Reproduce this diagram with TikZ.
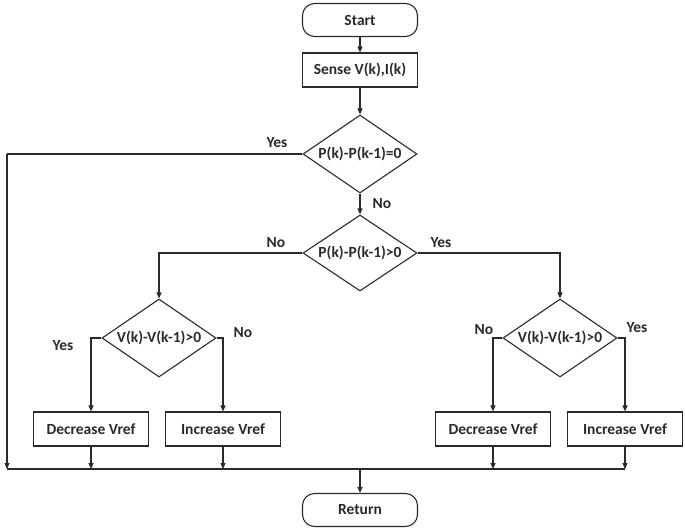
\documentclass[tikz,border=0pt]{standalone}
\usepackage{fontspec}
\setmainfont{Carlito}
\usetikzlibrary{shapes.geometric,arrows.meta}
\definecolor{ink}{HTML}{2A2A2A}
\begin{document}
\begin{tikzpicture}[x=1pt,y=-1pt,
  every node/.style={font=\bfseries\fontsize{15.5}{18}\selectfont,text=ink},
  line/.style={draw=ink,line width=1.1pt},
  arr/.style={line,-{Triangle[length=6pt,width=5pt]}},
  term/.style={line,rounded corners=12pt,minimum width=115pt,minimum height=33pt,inner sep=0pt},
  proc/.style={line,minimum width=115pt,minimum height=34pt,inner sep=0pt},
  dec/.style={line,shape=diamond,minimum width=114pt,minimum height=78pt,inner sep=0pt},
  lab/.style={font=\bfseries\fontsize{15.5}{18}\selectfont}
]
\useasboundingbox (0,0) rectangle (685,530);
\node[term] (start) at (360,20) {Start};
\node[proc] (sense) at (360,70) {Sense V(k),I(k)};
\node[dec,label={center:P(k)-P(k-1)=0}] (d1) at (360,154) {};
\node[dec,minimum height=76pt,label={center:P(k)-P(k-1)>0}] (d2) at (360,253) {};
\node[dec,label={center:V(k)-V(k-1)>0}] (d3) at (159,338) {};
\node[dec,label={center:V(k)-V(k-1)>0}] (d4) at (560,338) {};
\node[proc] (dec1) at (91,429) {Decrease Vref};
\node[proc] (inc1) at (223,429) {Increase Vref};
\node[proc] (dec2) at (493,429) {Decrease Vref};
\node[proc] (inc2) at (625,429) {Increase Vref};
\node[term] (ret) at (360,510) {Return};
\coordinate (yesL) at (7,154);
\coordinate (busL) at (7,469);
\coordinate (busR) at (625,469);

\draw[arr] (start) -- (sense);
\draw[arr] (sense) -- (d1);
\draw[line] (d1.west) -- (yesL);
\draw[arr] (yesL) -- (busL);
\draw[arr] (d1) -- (d2);
\draw[arr] (d2.west) -| (d3.north);
\draw[arr] (d2.east) -| (d4.north);
\draw[arr] (d3.west) -| (dec1.north);
\draw[arr] (d3.east) -| (inc1.north);
\draw[arr] (d4.west) -| (dec2.north);
\draw[arr] (d4.east) -| (inc2.north);
\draw[line] (busL) -- (busR);
\draw[arr] (dec1.south) -- (dec1.south |- busL);
\draw[arr] (inc1.south) -- (inc1.south |- busL);
\draw[arr] (dec2.south) -- (dec2.south |- busL);
\draw[arr] (inc2.south) -- (inc2.south |- busL);
\draw[arr] (ret.north |- busL) -- (ret.north);

\node[lab] (l1) at (277,143) {Yes};
\node[lab] (l2) at (382,204) {No};
\node[lab] (l3) at (276,243) {No};
\node[lab] (l4) at (441,243) {Yes};
\node[lab] (l5) at (63,346) {Yes};
\node[lab] (l6) at (243,333) {No};
\node[lab] (l7) at (484,330) {No};
\node[lab] (l8) at (637,328) {Yes};
\end{tikzpicture}
\end{document}
